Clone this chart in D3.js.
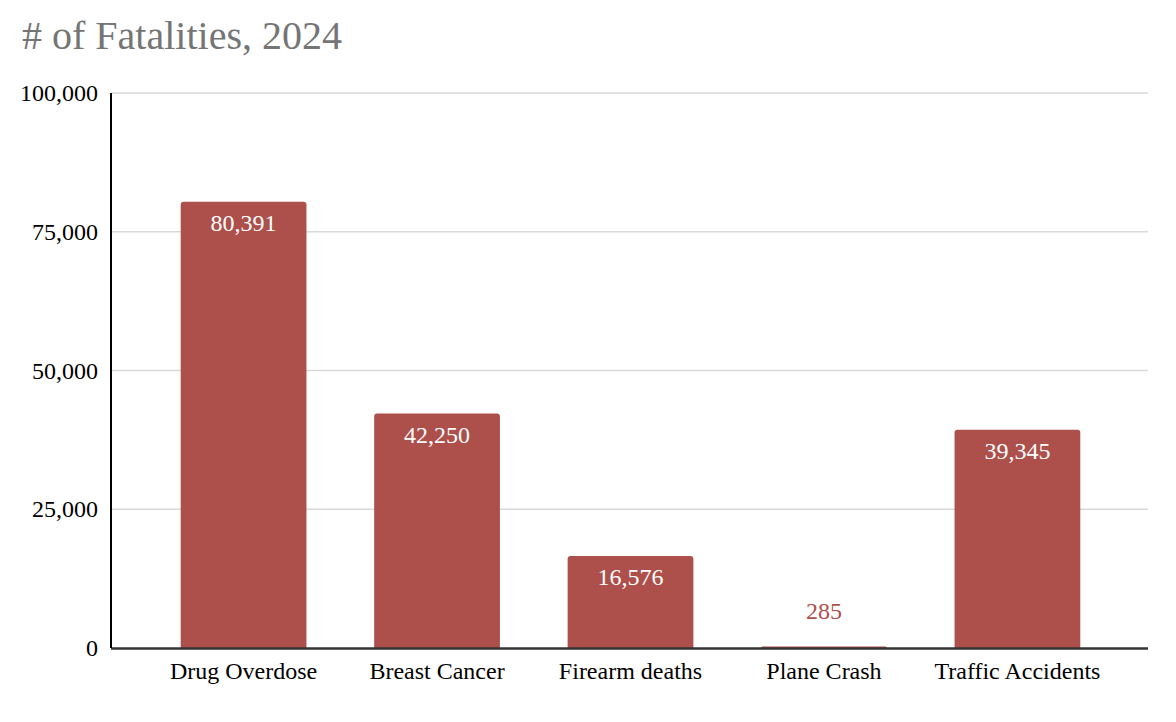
<!DOCTYPE html>
<html>
<head>
<meta charset="utf-8">
<script src="https://cdn.jsdelivr.net/npm/d3@7"></script>
<style>
  body { margin: 0; background: #fff; }
  text { font-family: "Liberation Serif", "Times New Roman", serif; }
</style>
</head>
<body>
<div id="chart"></div>
<script>
// chart data
const categories = ["Drug Overdose", "Breast Cancer", "Firearm deaths", "Plane Crash", "Traffic Accidents"];
const fatalities = [80391, 42250, 16576, 285, 39345];
const yTicks = [0, 25000, 50000, 75000, 100000];

const width = 1176;
const height = 722;
const margin = { top: 93, right: 28, bottom: 74, left: 111 };
const barColor = "#ad4f4b";
const fontSize = 24;

const svg = d3
  .select("#chart")
  .append("svg")
  .attr("width", width)
  .attr("height", height);

// title
svg
  .append("text")
  .attr("x", 22)
  .attr("y", 49)
  .attr("font-size", 40)
  .attr("fill", "#757575")
  .text("# of Fatalities, 2024");

const x = d3
  .scaleBand()
  .domain(categories)
  .range([margin.left + 2, width - margin.right])
  .paddingInner(0.35)
  .paddingOuter(0.35);

const y = d3
  .scaleLinear()
  .domain([0, 100000])
  .range([height - margin.bottom, margin.top]);

// gridlines
svg
  .append("g")
  .selectAll("line")
  .data(yTicks.filter(d => d > 0))
  .enter()
  .append("line")
  .attr("x1", margin.left)
  .attr("x2", width - margin.right)
  .attr("y1", d => y(d))
  .attr("y2", d => y(d))
  .attr("stroke", "#d9d9d9")
  .attr("stroke-width", 1.3);

// y axis labels
const yAxis = svg
  .append("g")
  .attr("transform", "translate(" + margin.left + ",0)")
  .call(d3.axisLeft(y).tickValues(yTicks).tickSize(0).tickPadding(13).tickFormat(d3.format(",")));
yAxis.select(".domain").remove();
yAxis
  .selectAll("text")
  .attr("font-family", "Liberation Serif, serif")
  .attr("font-size", fontSize)
  .attr("fill", "#000");

// bars with slightly rounded tops
const r = 3;
svg
  .append("g")
  .selectAll("path")
  .data(fatalities)
  .enter()
  .append("path")
  .attr("fill", barColor)
  .attr("d", (d, i) => {
    const x0 = x(categories[i]);
    const w = x.bandwidth();
    const y0 = y(d);
    const yb = y(0);
    const rr = Math.min(r, yb - y0);
    return (
      "M" + x0 + "," + yb +
      "V" + (y0 + rr) +
      "Q" + x0 + "," + y0 + " " + (x0 + rr) + "," + y0 +
      "H" + (x0 + w - rr) +
      "Q" + (x0 + w) + "," + y0 + " " + (x0 + w) + "," + (y0 + rr) +
      "V" + yb + "Z"
    );
  });

// value labels
svg
  .append("g")
  .selectAll("text")
  .data(fatalities)
  .enter()
  .append("text")
  .attr("x", (d, i) => x(categories[i]) + x.bandwidth() / 2)
  .attr("y", d => (y(0) - y(d) > 40 ? y(d) + 29 : y(d) - 27))
  .attr("text-anchor", "middle")
  .attr("font-size", fontSize)
  .attr("fill", d => (y(0) - y(d) > 40 ? "#fff" : barColor))
  .text(d => d3.format(",")(d));

// x axis
const xAxis = svg
  .append("g")
  .attr("transform", "translate(0," + y(0) + ")")
  .call(d3.axisBottom(x).tickSize(0).tickPadding(14));
xAxis.select(".domain").remove();
xAxis
  .selectAll("text")
  .attr("font-family", "Liberation Serif, serif")
  .attr("font-size", fontSize)
  .attr("fill", "#000");

svg
  .append("line")
  .attr("x1", margin.left)
  .attr("x2", width - margin.right)
  .attr("y1", y(0) + 0.5)
  .attr("y2", y(0) + 0.5)
  .attr("stroke", "#333")
  .attr("stroke-width", 2.5);

// y axis line
svg
  .append("line")
  .attr("x1", margin.left)
  .attr("x2", margin.left)
  .attr("y1", y(100000))
  .attr("y2", y(0))
  .attr("stroke", "#000")
  .attr("stroke-width", 2);
</script>
</body>
</html>
